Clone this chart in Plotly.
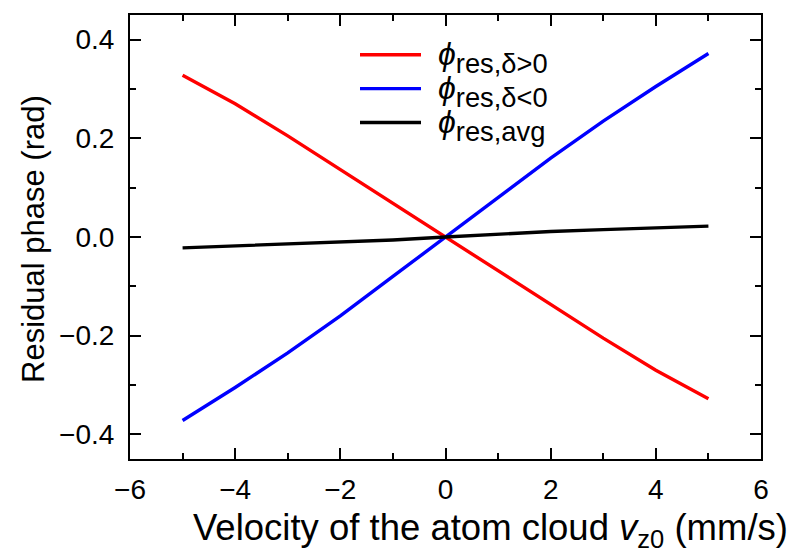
import plotly.graph_objects as go

velocity = [-5, -4, -3, -2, -1, 0, 1, 2, 3, 4, 5]
phi_pos = [0.328, 0.270, 0.205, 0.137, 0.068, 0.0, -0.068, -0.137, -0.205, -0.270, -0.328]
phi_neg = [-0.372, -0.305, -0.235, -0.160, -0.080, 0.0, 0.080, 0.160, 0.235, 0.305, 0.372]
phi_avg = [-0.022, -0.018, -0.015, -0.011, -0.006, 0.0, 0.006, 0.011, 0.015, 0.018, 0.022]

PHI = "<span style='font-size:32px'><i>ϕ</i></span>"
series = [
    (PHI + "<sub>res,δ&gt;0</sub>", phi_pos, "#ff0000"),
    (PHI + "<sub>res,δ&lt;0</sub>", phi_neg, "#0000ff"),
    (PHI + "<sub>res,avg</sub>", phi_avg, "#000000"),
]

FONT = "Liberation Sans, Arial, sans-serif"

fig = go.Figure()
for name, vals, col in series:
    fig.add_trace(go.Scatter(x=velocity, y=vals, mode="lines", name=name,
                             line=dict(color=col, width=3.4), showlegend=False))

# page offset (browser body margin) and plot-area position in page pixels
OFF = 8
L, R, T, B = 130, 761, 13, 459
W, H = R - L, B - T
def px(x):
    return (x - L) / W
def py(y):
    return (B - y) / H

for i, (name, vals, col) in enumerate(series):
    yy = py(53 + 34 * i)
    fig.add_shape(type="line", xref="paper", yref="paper",
                  x0=px(360), x1=px(421), y0=yy, y1=yy,
                  line=dict(color=col, width=3.4))
    fig.add_annotation(xref="paper", yref="paper", x=px(436), y=py(56 + 34 * i),
                       text=name, showarrow=False, xanchor="left", yanchor="middle",
                       font=dict(family=FONT, size=39, color="black"))

fig.add_annotation(xref="paper", yref="paper", x=px(491), y=py(530),
                   text="Velocity of the atom cloud <i>v</i><sub>z0</sub> (mm/s)",
                   showarrow=False, xanchor="center", yanchor="middle",
                   font=dict(family=FONT, size=36.5, color="black"))
fig.add_annotation(xref="paper", yref="paper", x=px(34), y=py(238),
                   text="Residual phase (rad)", textangle=-90,
                   showarrow=False, xanchor="center", yanchor="middle",
                   font=dict(family=FONT, size=31, color="black"))

axis_common = dict(
    showline=True, linecolor="black", linewidth=2, mirror="allticks",
    ticks="inside", ticklen=11, tickwidth=2, tickcolor="black",
    showgrid=False, zeroline=False,
    tickfont=dict(family=FONT, size=28, color="black"),
)

fig.update_xaxes(range=[-6, 6], tickmode="linear", tick0=-6, dtick=2,
                 minor=dict(ticks="inside", ticklen=6, tickwidth=2, dtick=1, tick0=-6,
                            tickcolor="black", showgrid=False),
                 ticklabelstandoff=4, **axis_common)
fig.update_yaxes(range=[-0.45, 0.45], tickmode="array",
                 tickvals=[-0.4, -0.2, 0.0, 0.2, 0.4],
                 ticktext=["\u22120.4", "\u22120.2", "0.0", "0.2", "0.4"],
                 minor=dict(ticks="inside", ticklen=6, tickwidth=2,
                            tickvals=[-0.3, -0.1, 0.1, 0.3],
                            tickcolor="black", showgrid=False),
                 ticklabelstandoff=8, **axis_common)

fig.update_layout(
    width=800 - OFF, height=554 - OFF,
    margin=dict(l=L - OFF, r=800 - R, t=T - OFF, b=554 - B),
    plot_bgcolor="white", paper_bgcolor="white",
    font=dict(family=FONT, color="black"),
)

fig.write_html("out.html")
